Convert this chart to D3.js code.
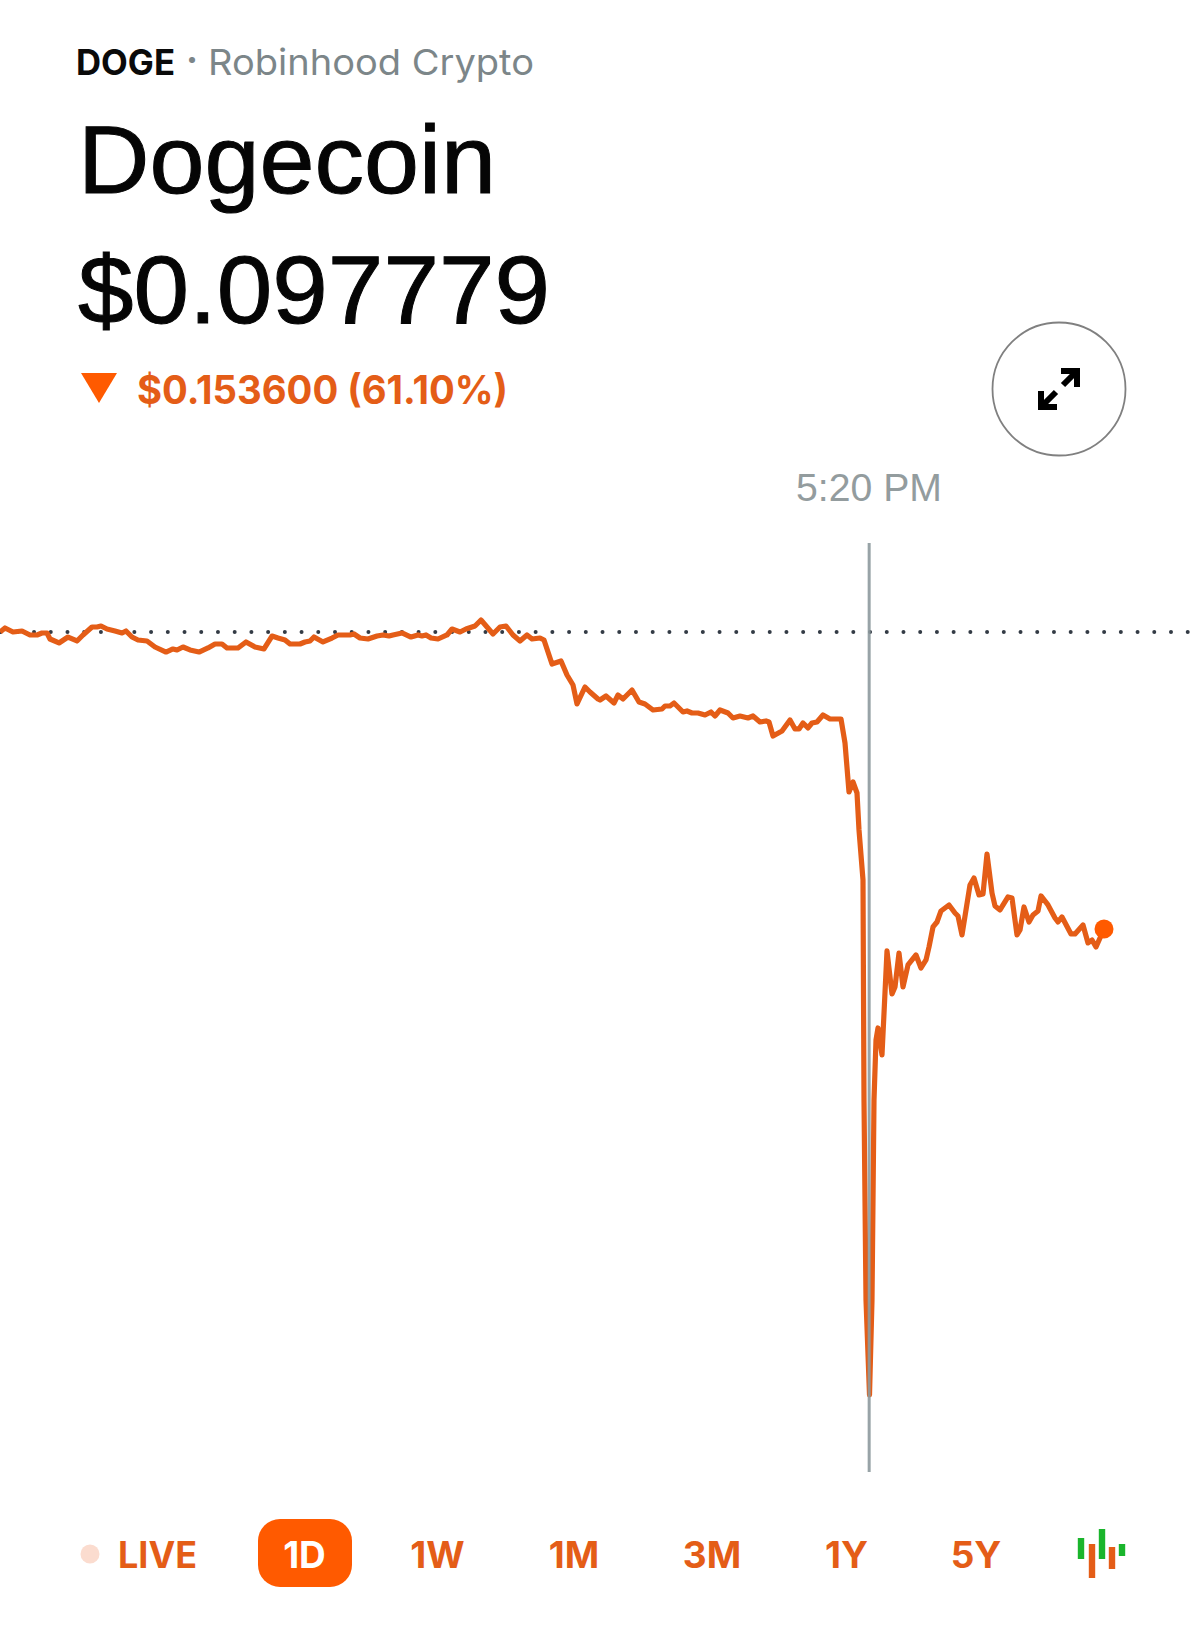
<!DOCTYPE html>
<html><head><meta charset="utf-8">
<style>html,body{margin:0;padding:0;background:#fff}svg{display:block}text{font-family:Inter,"Liberation Sans",sans-serif}.h{font-family:"Liberation Sans",Arial,sans-serif}</style>
<script src="https://cdnjs.cloudflare.com/ajax/libs/d3/7.8.5/d3.min.js"></script>
</head><body><div id="c"></div>
<script>
// minutes since midnight
const minutes=[0,6,15.6,26.4,36,44.4,50.4,56.4,60,70.8,81.6,92.4,99.6,110.4,116.4,121.2,128.4,138,146.4,151.2,158.4,165.6,176.4,186,199.2,207.6,212.4,219.6,228,238.8,249.6,258,266.4,272.4,285.6,295.2,306,316.8,326.4,333.6,342,348,
360,366,372,376.8,387.6,398.4,405.6,420,424.8,432,441.6,452.4,459.6,466.8,471.6,482.4,493.2,501.6,506.4,511.2,517.2,525.6,536.4,542.4,552,559.2,570,577.2,591.6,600,607.2,615.6,624,632.4,638.4,648,652.8,662.4,673.2,680.4,687.6,692.4,702,708,717.6,
720,727.2,736.8,741.6,747.6,758.4,766.8,774,783.6,794.4,798,804,808.8,819.6,824.4,830.4,837.6,846,853.2,858,864,873.6,879.6,888,897.6,903.6,912,919.2,922.8,927.6,938.4,948,954,958.8,963.6,969.6,974.4,980.4,987.6,996,1009.2,1014,1018.8,1023.6,1028.4,1030.8,1035.6,1036.4,1036.8,1039.2,1043.4,1046.4,1048.8,1051.2,1053.6,1058.4,1064.4,1070.4,1074,1078.8,1083.6,1089.6,1099.2,1105.2,1111.2,1114.8,1119.6,1124.4,1129.2,1138.8,1146,1149.6,1154.4,1164,1168.8,1174.8,1179.6,1184.4,1190.4,1194,1200,1209.6,1214.4,1220.4,1224,1228.8,1234.8,1239.6,1245.6,1249.2,1257.6,1266,1269.6,1274.4,1285.2,1290,1299.6,1305.6,1310.4,1315.2,1324.8];
const prices=[.25138,.25219,.25138,.25158,.25078,.25078,.25118,.25118,.24997,.24917,.25037,.24957,.25078,.25239,.25239,.25259,.25198,.25158,.25118,.25158,.25037,.24977,.24957,.24836,.24735,.24796,.24776,.24836,.24776,.24735,.24816,.24896,.24896,.24816,.24816,.24937,.24836,.24796,.25057,.25017,.24977,.24896,
.24896,.24937,.24957,.25037,.24937,.25017,.25078,.25078,.25098,.25017,.24997,.25057,.25078,.25057,.25078,.25118,.25037,.25078,.25057,.25078,.25017,.24997,.25078,.25198,.25138,.25198,.25259,.25380,.25098,.25239,.25259,.25078,.24957,.25078,.24997,.25017,.24977,.24494,.24554,.24272,.24071,.23689,.24031,.23930,.23789,
.23769,.23850,.23709,.23870,.23789,.23970,.23729,.23689,.23568,.23588,.23648,.23648,.23709,.23528,.23548,.23507,.23507,.23467,.23528,.23447,.23568,.23507,.23407,.23447,.23407,.23447,.23326,.23347,.23326,.23044,.23145,.23367,.23186,.23186,.23306,.23206,.23306,.23326,.23467,.23387,.23387,.22904,.21917,.22118,.21897,.21152,.20146,.17126,.15717,.11691,.09778,.11691,.15717,.16925,.17167,.16623,.18717,.17851,.17992,.18676,.17992,.18435,.18636,.18374,.18535,.18797,.19200,.19300,.19522,.19643,.19481,.19421,.19039,.20045,.20186,.19844,.19864,.20669,.19884,.19622,.19542,.19804,.19783,.19039,.19139,.19602,.19300,.19441,.19522,.19824,.19643,.19381,.19300,.19401,.19059,.19059,.19240,.18878,.18938,.18797,.19159];
const previousClose=0.251379, hoverPrice=0.097779, hoverMinute=1043;
const ranges=["1D","1W","1M","3M","1Y","5Y"];
const rangeCentres=[304.5,437.5,574,712,846.5,976];
const ORANGE="#e45d17", FILL="#ff5a00";

const svg=d3.select("#c").append("svg").attr("width",1200).attr("height",1641);
const x=d3.scaleLinear().domain([0,1440]).range([0,1200]);
const y=d3.scaleLinear().domain([hoverPrice,previousClose]).range([1395,632]);

// Header
const t=(s,px,py,fs,fw,col,anchor)=>svg.append("text").text(s).attr("x",px).attr("y",py).attr("font-size",fs).attr("font-weight",fw).attr("fill",col).attr("text-anchor",anchor||"start");
t("DOGE",76,75,35,700,"#0a0a0a").attr("textLength",99).attr("lengthAdjust","spacingAndGlyphs");
t("·",186,72,36,700,"#7c8689");
t("Robinhood Crypto",208,75,36,400,"#7c8689").attr("textLength",326).attr("lengthAdjust","spacingAndGlyphs");
t("Dogecoin",78,193,96,400,"#050505").attr("class","h").attr("textLength",418).attr("lengthAdjust","spacingAndGlyphs").attr("stroke","#050505").attr("stroke-width",1);
t("$0.097779",78,323,96,400,"#050505").attr("class","h").attr("textLength",472).attr("lengthAdjust","spacingAndGlyphs").attr("stroke","#050505").attr("stroke-width",1);
svg.append("path").attr("d",d3.line()([[81,373],[117,373],[99,403]])+"Z").attr("fill",FILL);
t("$0.153600 (61.10%)",137,404,39,700,ORANGE).attr("textLength",371).attr("lengthAdjust","spacingAndGlyphs");

// Expand button
svg.append("circle").attr("cx",1059).attr("cy",389).attr("r",66.5).attr("fill","#fff").attr("stroke","#808080").attr("stroke-width",1.8);
const ic=svg.append("g").attr("fill","none").attr("stroke","#000").attr("stroke-width",6).attr("stroke-linejoin","miter");
ic.append("path").attr("d","M1061 371H1077V387M1077 371L1063 385");
ic.append("path").attr("d","M1041 391V407H1057M1041 407L1056 392");

// Chart
t("5:20 PM",796,501,38,400,"#939c9e").attr("class","h").attr("textLength",146).attr("lengthAdjust","spacingAndGlyphs");
svg.append("line").attr("x1",x(0)+.6).attr("x2",x(1440)).attr("y1",y(previousClose)).attr("y2",y(previousClose))
 .attr("stroke","#333b45").attr("stroke-width",4).attr("stroke-linecap","round").attr("stroke-dasharray","0 16.72");
const data=minutes.map((m,i)=>[m,prices[i]]);
svg.append("path").datum(data).attr("fill","none").attr("stroke",ORANGE).attr("stroke-width",5.2).attr("stroke-linejoin","round")
 .attr("d",d3.line().x(d=>x(d[0])).y(d=>y(d[1])));
svg.append("circle").attr("cx",x(minutes[minutes.length-1])).attr("cy",y(prices[prices.length-1])).attr("r",9.5).attr("fill",FILL);
svg.append("line").attr("x1",x(hoverMinute)).attr("x2",x(hoverMinute)).attr("y1",543).attr("y2",1472).attr("stroke","#8d9a9e").attr("stroke-width",3).attr("opacity",.9);

// Range selector
svg.append("circle").attr("cx",90).attr("cy",1554).attr("r",9.5).attr("fill","#fbdccf");
t("LIVE",118,1567.5,37,700,ORANGE).attr("textLength",79).attr("lengthAdjust","spacingAndGlyphs");
svg.append("rect").attr("x",258).attr("y",1519).attr("width",94).attr("height",68).attr("rx",22).attr("fill",FILL);
ranges.forEach((r,i)=>t(r,rangeCentres[i],1567.5,37,700,i?ORANGE:"#fff","middle"));
const candles=[[1081,1538,1559,"#1ab52c"],[1092,1544,1578,ORANGE],[1102,1529,1559,"#1ab52c"],[1112,1547,1569,ORANGE],[1122,1544,1556,"#1ab52c"]];
svg.append("g").selectAll("rect").data(candles).join("rect").attr("x",d=>d[0]-3.2).attr("width",6.4).attr("y",d=>d[1]).attr("height",d=>d[2]-d[1]).attr("fill",d=>d[3]);
</script></body></html>
